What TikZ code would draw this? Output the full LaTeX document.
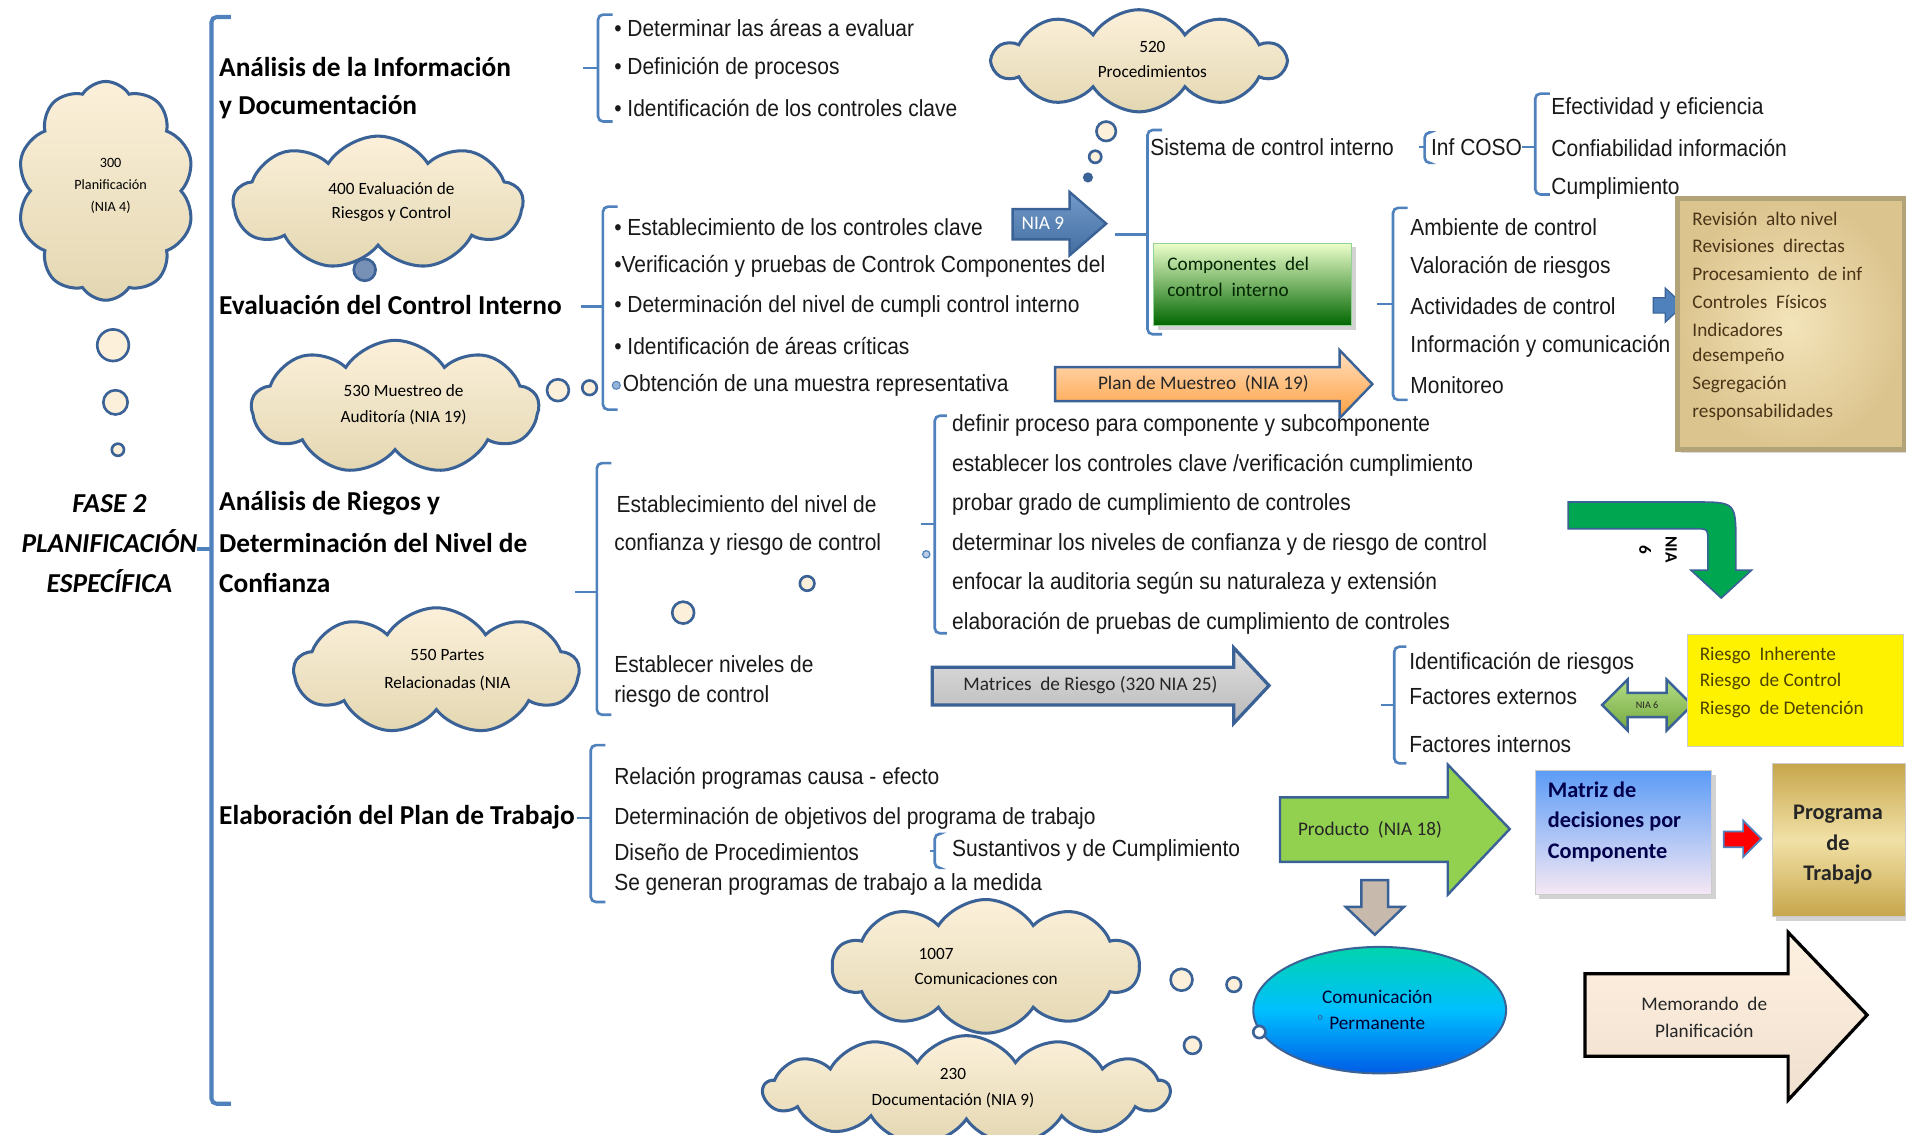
\documentclass[tikz,border=0pt]{standalone}
\usepackage{fontspec}
\setmainfont{Liberation Sans}[FakeStretch=0.9]
\newfontfamily\calfont{Carlito}
\usetikzlibrary{shapes.symbols,shapes.geometric,shadows}
\definecolor{cblue}{HTML}{3B6296}
\definecolor{bracecol}{HTML}{4F81BD}
\definecolor{cream1}{HTML}{FCF0DA}
\definecolor{cream2}{HTML}{E3D7B2}
\definecolor{papin}{HTML}{F3E4BA}
\definecolor{papout}{HTML}{DCC48E}
\definecolor{papline}{HTML}{B3A378}
\definecolor{paptext}{HTML}{4A3418}
\definecolor{limegreen}{HTML}{92D050}
\definecolor{darkgreen}{HTML}{00A650}
\definecolor{mtop}{HTML}{5C9CF6}
\definecolor{mbot}{HTML}{F6E8F4}
\definecolor{goldA}{HTML}{C7A64C}
\definecolor{goldB}{HTML}{F1E1A6}
\definecolor{ytext}{HTML}{4D4300}
\newcommand\brk[6]{%
  \draw[brc] (#1+#6,#2) -- (#1,#2) -- (#1,#3) -- (#1+#6,#3);
  \draw[brc,sharp corners] (#1,#4) -- (#5,#4);}
\begin{document}
\begin{tikzpicture}[x=0.6pt,y=-0.6pt,
  brc/.style={draw=bracecol,line width=1.3pt,rounded corners=2.5pt},
  bt/.style={anchor=west,inner sep=0pt,font=\fontsize{11.5}{13}\selectfont,text=black!90},
  hd/.style={anchor=west,inner sep=0pt,font=\calfont\bfseries\fontsize{13.5}{16}\selectfont},
  cld/.style={cloud,cloud ignores aspect,cloud puffs=9,cloud puff arc=115,draw=cblue,
    line width=1.5pt,top color=cream1,bottom color=cream2,inner sep=0pt},
  ctxt/.style={align=center,inner sep=0pt,font=\calfont\fontsize{8.5}{12.5}\selectfont},
  bub/.style={circle,draw=cblue,line width=1.3pt,fill=cream1,inner sep=0pt,minimum size=#1},
  alab/.style={inner sep=0pt,font=\calfont\fontsize{9.5}{11}\selectfont,text=black!85},
  bblk/.style={draw=cblue,line width=1.2pt,line join=miter}]
\useasboundingbox (0,0) rectangle (1568,933);
\fill[white] (0,0) rectangle (1568,933);

% ---- clouds and their thought bubbles ----
\node[cld,cloud puffs=10,minimum width=87.6pt,minimum height=108pt] (c300) at (87,157) {};
\node[ctxt,font=\calfont\fontsize{7}{11}\selectfont] (t300) at (91,153) {300\\Planificación\\(NIA 4)};
\node[bub=15.6pt] (b1) at (93,284) {};
\node[bub=12pt] (b2) at (95,331) {};
\node[bub=6pt] (b3) at (97,370) {};

\node[cld,minimum width=142.8pt,minimum height=66pt] (c400) at (311,167) {};
\node[ctxt,font=\calfont\fontsize{8.5}{11.7}\selectfont] (t400) at (322,166) {400 Evaluación de\\Riesgos y Control};
\node[bub=10.8pt,fill=cblue!70] (b4) at (300,222) {};

\node[cld,minimum width=141.6pt,minimum height=66pt] (c530) at (325,335) {};
\node[ctxt,font=\calfont\fontsize{8.5}{13}\selectfont] (t530) at (332,333) {530 Muestreo de\\Auditoría  (NIA 19)};
\node[bub=10.8pt] (b5) at (459,321) {};
\node[bub=7.2pt] (b6) at (485,319) {};

\node[cld,minimum width=140.4pt,minimum height=62.4pt] (c550) at (359,552) {};
\node[ctxt,font=\calfont\fontsize{8.5}{13.8}\selectfont] (t550) at (368,551) {550 Partes\\Relacionadas (NIA};
\node[bub=10.8pt] (b7) at (562,504) {};
\node[bub=7.2pt] (b8) at (664,480) {};

\node[cld,cloud puffs=10,minimum width=144pt,minimum height=50.4pt] (c520) at (937,50) {};
\node[ctxt,font=\calfont\fontsize{8.5}{12.6}\selectfont] (t520) at (948,49) {520\\Procedimientos};
\node[bub=9.6pt] (b9) at (910,108) {};
\node[bub=6pt] (b10) at (901,129) {};
\node[bub=3.6pt,fill=cblue] (b11) at (895,146) {};

\node[cld,cloud puffs=10,minimum width=151.2pt,minimum height=66pt] (c1007) at (811,795) {};
\node[ctxt,align=left,anchor=west,font=\calfont\fontsize{8.5}{12.6}\selectfont] (t1007) at (752,795) {\hspace*{2pt}1007\\Comunicaciones con};
\node[cld,cloud puffs=13,minimum width=200.4pt,minimum height=54pt] (c230) at (795,897) {};
\node[ctxt,font=\calfont\fontsize{8.5}{12.6}\selectfont] (t230) at (784,895) {230\\Documentación (NIA 9)};
\node[bub=10.8pt] (b12) at (972,806) {};
\node[bub=7.2pt] (b13) at (1015,810) {};
\node[bub=8.4pt] (b14) at (981,860) {};

% ---- main phase title and brace ----
\node[align=center,inner sep=0pt,font=\calfont\bfseries\itshape\fontsize{13.5}{19.8}\selectfont] (fase) at (90,447) {FASE 2\\PLANIFICACIÓN\\ESPECÍFICA};
\draw[brc,line width=2pt] (190,14) -- (174,14) -- (174,908) -- (190,908);
\draw[brc,line width=2pt,sharp corners] (174,452) -- (162,452);

\node[hd] (h1a) at (180,55) {Análisis de la Información};
\node[hd] (h1b) at (180,88) {y Documentación};
\node[hd] (h2) at (180,251) {Evaluación del Control Interno};
\node[hd] (h3a) at (180,414) {Análisis de Riegos y};
\node[hd] (h3b) at (180,447) {Determinación del Nivel de};
\node[hd] (h3c) at (180,480) {Confianza};
\node[hd] (h4) at (180,672) {Elaboración del Plan de Trabajo};

% ---- analysis of information ----
\brk{492}{12}{100}{56}{480}{12}
\node[bt] (a1) at (505,23) {• Determinar las áreas a evaluar};
\node[bt] (a2) at (505,56) {• Definición de procesos};
\node[bt] (a3) at (505,89) {• Identificación de los controles clave};

% ---- internal control evaluation ----
\brk{496}{170}{337}{252}{478}{12}
\node[bt] (e1) at (505,187) {• Establecimiento de los controles clave};
\node[bt] (e2) at (505,219) {•Verificación y pruebas de Controk Componentes del};
\node[bt] (e3) at (505,252) {• Determinación del nivel de cumpli control interno};
\node[bt] (e4) at (505,285) {• Identificación de áreas críticas};
\node[circle,inner sep=0pt,minimum size=4pt,fill=bracecol!60,draw=bracecol,line width=0.5pt] (edot) at (507,317) {};
\node[bt] (e5) at (512,317) {Obtención de una muestra representativa};

% NIA 9 arrow
\path[bblk,top color=bracecol!80!white,bottom color=bracecol!85!black]
  (833,172) -- (880,172) -- (880,158) -- (910,184) -- (880,210) -- (880,197) -- (833,197) -- cycle;
\node[alab,text=white] (nia9) at (858,184) {NIA 9};

\brk{944}{107}{275}{193}{917}{12}
\node[bt] (s1) at (946,121) {Sistema de control interno};
\brk{1172}{109}{134}{121}{1167}{3}
\node[bt] (s2) at (1177,121) {Inf COSO};
\brk{1263}{77}{160}{121}{1252}{12}
\node[bt] (s3) at (1276,89) {Efectividad y eficiencia};
\node[bt] (s4) at (1276,122) {Confiabilidad información};
\node[bt] (s5) at (1276,155) {Cumplimiento};

\node[rectangle,minimum width=97.8pt,minimum height=40.8pt,draw=green!40!gray!60,line width=0.5pt,
  top color=green!15!lime!20!white,bottom color=green!40!black,
  drop shadow={shadow xshift=2pt,shadow yshift=-2pt,opacity=0.35}] (gbox) at (1030.5,234) {};
\node[alab,anchor=west,align=left,text=green!15!black,font=\calfont\fontsize{9.5}{13}\selectfont] (gtxt) at (960,228) {Componentes\ \ del\\control\ \ interno};

\brk{1146}{171}{329}{250}{1133}{12}
\node[bt] (k1) at (1160,187) {Ambiente de control};
\node[bt] (k2) at (1160,220) {Valoración de riesgos};
\node[bt] (k3) at (1160,252) {Actividades de control};
\node[bt] (k4) at (1160,285) {Información y comunicación};
\node[bt] (k5) at (1160,317) {Monitoreo};

\path[bblk,line width=0.6pt,fill=bracecol]
  (1360,245) -- (1370,245) -- (1370,237) -- (1385,251) -- (1370,265) -- (1370,257.6) -- (1360,257.6) -- cycle;

\node[rectangle,minimum width=112.2pt,minimum height=124.2pt,draw=papline,line width=2.4pt,
  inner color=papin,outer color=papout,
  drop shadow={shadow xshift=1.5pt,shadow yshift=-1.5pt,opacity=0.3}] (pap) at (1473.5,266.5) {};
\foreach \yy/\tx/\nm in {180/Revisión\ \ alto nivel/p1,202/Revisiones\ \ directas/p2,225/Procesamiento\ \ de inf/p3,
  248/Controles\ \ Físicos/p4,271/Indicadores/p5,293/desempeño/p6,316/Segregación/p7,339/responsabilidades/p8}
  \node[alab,anchor=west,text=paptext] (\nm) at (1392,\yy) {\tx};

% sampling plan arrow
\path[bblk,top color=orange!25!white,bottom color=orange!75!white]
  (868,302) -- (1102,302) -- (1102,288) -- (1129,316) -- (1102,344) -- (1102,330) -- (868,330) -- cycle;
\node[alab] (plan) at (990,316) {Plan de Muestreo\ \ (NIA 19)};

% ---- risk analysis ----
\brk{769}{342}{521}{431}{758}{10}
\node[circle,inner sep=0pt,minimum size=3.6pt,draw=bracecol,fill=bracecol!40,line width=0.6pt] (rdot) at (762,456) {};
\node[bt] (r1) at (783,350) {definir proceso para componente y subcomponente};
\node[bt] (r2) at (783,383) {establecer los controles clave /verificación cumplimiento};
\node[bt] (r3) at (783,415) {probar grado de cumplimiento de controles};
\node[bt] (r4) at (783,448) {determinar los niveles de confianza y de riesgo de control};
\node[bt] (r5) at (783,480) {enfocar la auditoria según su naturaleza y extensión};
\node[bt] (r6) at (783,513) {elaboración de pruebas de cumplimiento de controles};

\brk{491}{381}{588}{487}{473}{12}
\node[bt] (n1) at (507,415) {Establecimiento del nivel de};
\node[bt] (n2) at (505,448) {confianza y riesgo de control};
\node[bt] (n3) at (505,546) {Establecer niveles de};
\node[bt] (n4) at (505,573) {riesgo de control};

\path[bblk,line width=1.6pt,top color=gray!25,bottom color=gray!55]
  (767,549) -- (1015,549) -- (1015,533) -- (1044,564) -- (1015,595) -- (1015,580) -- (767,580) -- cycle;
\node[alab] (matr) at (897,564) {Matrices\ \ de Riesgo (320 NIA 25)};

% bent arrow NIA 6
\path[draw=cblue,line width=0.8pt,fill=darkgreen]
  (1290,413) -- (1394,413) .. controls (1428,413) and (1428,413) .. (1428,447) -- (1428,469)
  -- (1441,469) -- (1416,492) -- (1391,469) -- (1405,469) -- (1405,446)
  .. controls (1405,435) and (1405,435) .. (1394,435) -- (1290,435) -- cycle;
\node[rotate=-90,align=center,inner sep=0pt,font=\calfont\bfseries\fontsize{8.5}{13}\selectfont] (nia6a) at (1364,452) {NIA\\6};

\brk{1147}{532}{628}{580}{1136}{10}
\node[bt] (f1) at (1159,546) {Identificación de riesgos};
\node[bt] (f2) at (1159,573) {Factores externos};
\node[bt] (f3) at (1159,612) {Factores internos};

\path[bblk,line width=1.2pt,top color=limegreen!70!white,bottom color=limegreen!80!black]
  (1318,580) -- (1339,559) -- (1339,570) -- (1371,570) -- (1371,559) -- (1392,580)
  -- (1371,601) -- (1371,590) -- (1339,590) -- (1339,601) -- cycle;
\node[alab,font=\calfont\fontsize{5}{6}\selectfont] (nia6b) at (1355,580) {NIA 6};

\node[rectangle,minimum width=106.8pt,minimum height=55.2pt,fill=yellow,draw=gray!40,line width=0.6pt] (ybox) at (1477,568) {};
\node[alab,anchor=west,text=ytext] (y1) at (1398,539) {Riesgo\ \ Inherente};
\node[alab,anchor=west,text=ytext] (y2) at (1398,561) {Riesgo\ \ de Control};
\node[alab,anchor=west,text=ytext] (y3) at (1398,584) {Riesgo\ \ de Detención};

% ---- work plan ----
\brk{486}{613}{742}{673}{475}{12}
\node[bt] (w1) at (505,640) {Relación programas causa - efecto};
\node[bt] (w2) at (505,673) {Determinación de objetivos del programa de trabajo};
\node[bt] (w3) at (505,701) {Diseño de Procedimientos};
\node[bt] (w4) at (505,728) {Se generan programas de trabajo a la medida};
\brk{769}{686}{714}{700}{765}{3}
\node[bt] (w5) at (783,700) {Sustantivos y de Cumplimiento};

\path[bblk,fill=limegreen]
  (1053,656) -- (1191,656) -- (1191,629) -- (1242,682) -- (1191,736) -- (1191,709) -- (1053,709) -- cycle;
\node[alab] (prod) at (1127,683) {Producto\ \ (NIA 18)};

\node[rectangle,minimum width=87pt,minimum height=61.2pt,draw=gray!40,line width=0.6pt,
  top color=mtop,bottom color=mbot,
  drop shadow={shadow xshift=2pt,shadow yshift=-2pt,opacity=0.35}] (mbox) at (1335.5,685) {};
\node[anchor=west,align=left,inner sep=0pt,text=blue!30!black,font=\calfont\bfseries\fontsize{11}{15}\selectfont] (mtxt) at (1273,676) {Matriz de\\decisiones por\\Componente};

\path[draw=bracecol,line width=0.8pt,fill=red]
  (1418,684) -- (1434,684) -- (1434,675) -- (1449,690) -- (1434,705) -- (1434,697) -- (1418,697) -- cycle;

\node[rectangle,minimum width=66pt,minimum height=75.6pt,draw=gray!40,line width=0.6pt,
  top color=goldA,bottom color=goldA,middle color=goldB,
  drop shadow={shadow xshift=2pt,shadow yshift=-2pt,opacity=0.35}] (pbox) at (1513,691) {};
\node[align=center,inner sep=0pt,text=black!85,font=\calfont\bfseries\fontsize{11}{15}\selectfont] (ptxt) at (1512,695) {Programa\\de\\Trabajo};

\path[bblk,line width=1.2pt,fill=brown!40!gray!55!white]
  (1120,724) -- (1142,724) -- (1142,746) -- (1155,746) -- (1131,769) -- (1107,746) -- (1120,746) -- cycle;

\node[ellipse,minimum width=124.8pt,minimum height=62.4pt,draw=cblue,line width=1pt,
  top color=teal!40!cyan!85!green,bottom color=blue!60!cyan!90!black,middle color=cyan!75!blue] (ell) at (1135,831) {};
\node[alab,align=center,font=\calfont\fontsize{9.5}{13}\selectfont,text=blue!20!black] (etxt) at (1133,831) {Comunicación\\Permanente};
\node[circle,inner sep=0pt,minimum size=2pt,draw=cblue,line width=0.4pt] (edot2) at (1086,837) {};
\node[bub=6pt,fill=white] (b15) at (1036,849) {};

\path[draw=black,line width=1.6pt,top color=yellow!8!orange!12!white,bottom color=brown!25!white]
  (1304,801) -- (1471,801) -- (1471,767) -- (1536,835) -- (1471,905) -- (1471,869) -- (1304,869) -- cycle;
\node[alab,align=center,font=\calfont\fontsize{9.5}{13}\selectfont] (memo) at (1402,837) {Memorando\ \ de\\Planificación};
\end{tikzpicture}
\end{document}
